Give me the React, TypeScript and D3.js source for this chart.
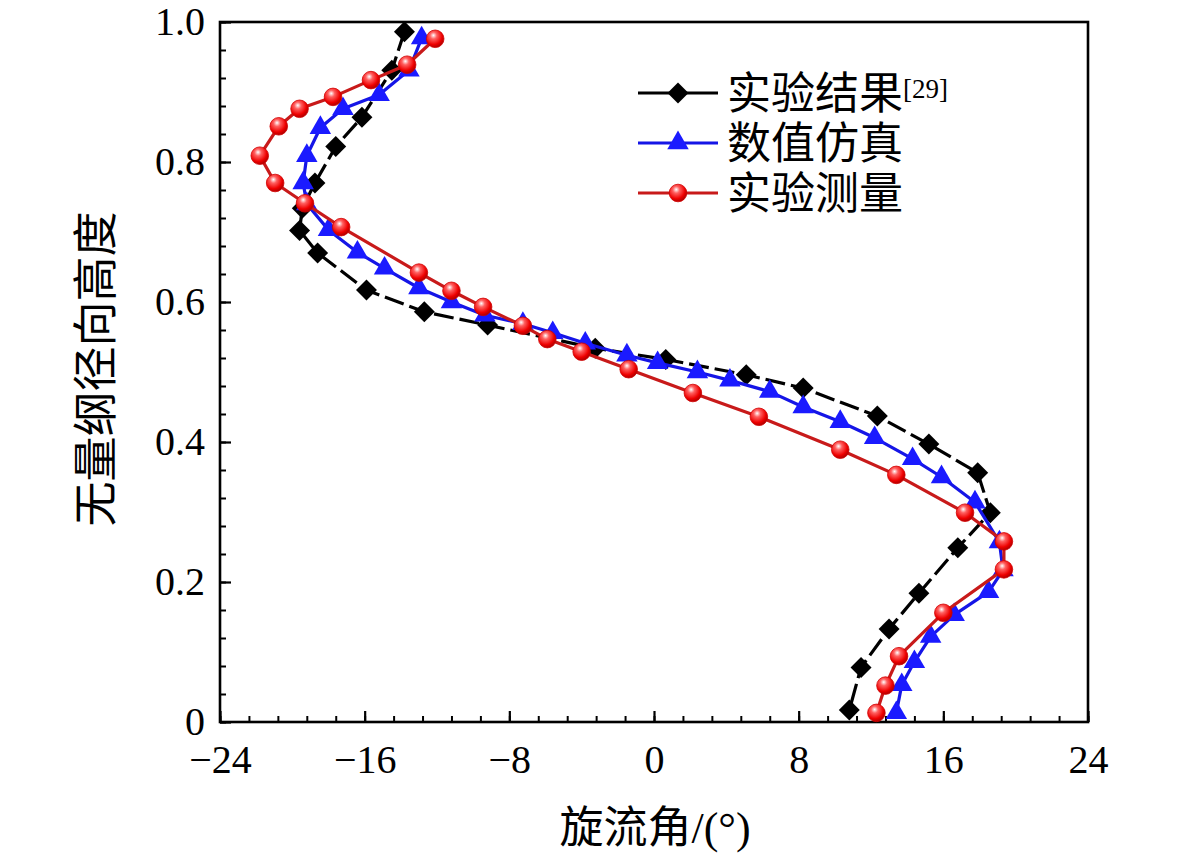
import { useEffect, useRef } from "react";
import * as d3 from "d3";

// 实验结果[29]
const expAngle = [-13.8, -14.5, -16.15, -17.6, -18.75, -19.45, -19.6, -18.6, -15.9, -12.7, -9.2, -3.25, 0.65, 5.1, 8.25, 12.35, 15.2, 17.9, 18.6, 16.8, 14.65, 13.0, 11.45, 10.8];
const expHeight = [0.986, 0.931, 0.864, 0.822, 0.77, 0.734, 0.702, 0.67, 0.617, 0.586, 0.567, 0.534, 0.518, 0.496, 0.477, 0.437, 0.397, 0.356, 0.299, 0.249, 0.184, 0.133, 0.078, 0.017];

// 数值仿真
const simAngle = [-12.85, -13.55, -15.2, -17.2, -18.45, -19.2, -19.4, -19.2, -18.0, -16.4, -14.9, -13.0, -11.2, -9.35, -7.25, -5.6, -3.8, -1.5, 0.2, 2.4, 4.2, 6.4, 8.25, 10.3, 12.2, 14.3, 15.9, 17.75, 19.1, 19.3, 18.5, 16.6, 15.3, 14.4, 13.7, 13.4];
const simHeight = [0.977, 0.931, 0.896, 0.876, 0.849, 0.809, 0.77, 0.74, 0.703, 0.671, 0.648, 0.62, 0.6, 0.581, 0.569, 0.556, 0.541, 0.524, 0.513, 0.5, 0.488, 0.472, 0.45, 0.429, 0.406, 0.376, 0.35, 0.314, 0.257, 0.217, 0.186, 0.153, 0.122, 0.086, 0.053, 0.013];

// 实验测量
const measAngle = [-12.1, -13.65, -15.65, -17.75, -19.6, -20.75, -21.8, -20.95, -19.3, -17.3, -13.0, -11.2, -9.45, -7.25, -5.9, -4.0, -1.4, 2.15, 5.8, 10.3, 13.4, 17.2, 19.35, 19.35, 16.0, 13.55, 12.8, 12.3];
const measHeight = [0.976, 0.939, 0.917, 0.893, 0.876, 0.851, 0.809, 0.77, 0.741, 0.707, 0.642, 0.616, 0.593, 0.566, 0.547, 0.529, 0.504, 0.47, 0.436, 0.389, 0.353, 0.299, 0.258, 0.218, 0.156, 0.094, 0.052, 0.013];

const xTicks = [-24, -16, -8, 0, 8, 16, 24];
const yTicks = [0, 0.2, 0.4, 0.6, 0.8, 1.0];
const legendNames = ["实验结果", "数值仿真", "实验测量"];

const serif = "'Liberation Serif', 'Times New Roman', 'Noto Sans CJK SC', serif";

export default function App() {
    const svgRef = useRef<SVGSVGElement | null>(null);

    useEffect(() => {
        if (!svgRef.current) return;
        const root = d3.select(svgRef.current);
        root.selectAll("*").remove();

        const width = 1181;
        const height = 855;
        const margin = { top: 22, right: 93, bottom: 133, left: 220 };
        const innerWidth = width - margin.left - margin.right;
        const innerHeight = height - margin.top - margin.bottom;

        const defs = root.append("defs");
        const grad = defs
            .append("radialGradient")
            .attr("id", "ball")
            .attr("cx", "0.4")
            .attr("cy", "0.35")
            .attr("r", "0.65")
            .attr("fx", "0.4")
            .attr("fy", "0.3");
        grad.append("stop").attr("offset", "0%").attr("stop-color", "#ffffff");
        grad.append("stop").attr("offset", "30%").attr("stop-color", "#ff6060");
        grad.append("stop").attr("offset", "75%").attr("stop-color", "#ee0000");
        grad.append("stop").attr("offset", "100%").attr("stop-color", "#b00000");

        const svg = root
            .append("g")
            .attr("transform", `translate(${margin.left},${margin.top})`);

        const x = d3.scaleLinear().domain([-24, 24]).range([0, innerWidth]);
        const y = d3.scaleLinear().domain([0, 1]).range([innerHeight, 0]);

        // Minor + major ticks, pointing inward
        const xMinor = d3.range(-24, 24.001, 1.6);
        const yMinor = d3.range(0, 1.0001, 0.04);

        svg.append("g")
            .attr("transform", `translate(0,${innerHeight})`)
            .call(d3.axisBottom(x).tickValues(xMinor).tickSize(-6).tickFormat(() => ""))
            .call((g) => g.select(".domain").remove())
            .selectAll("line")
            .attr("stroke", "#000")
            .attr("stroke-width", 2);

        svg.append("g")
            .attr("transform", `translate(0,${innerHeight})`)
            .call(d3.axisBottom(x).tickValues(xTicks).tickSize(-11).tickPadding(23).tickFormat((d) => `${d}`.replace("-", "−")))
            .call((g) => g.select(".domain").remove())
            .call((g) => g.selectAll("line").attr("stroke", "#000").attr("stroke-width", 2.2))
            .selectAll("text")
            .attr("fill", "#000")
            .attr("font-family", serif)
            .attr("font-size", "40px");

        svg.append("g")
            .call(d3.axisLeft(y).tickValues(yMinor).tickSize(-6).tickFormat(() => ""))
            .call((g) => g.select(".domain").remove())
            .selectAll("line")
            .attr("stroke", "#000")
            .attr("stroke-width", 2);

        svg.append("g")
            .call(d3.axisLeft(y).tickValues(yTicks).tickSize(-11).tickPadding(15).tickFormat((d) => (+d === 0 ? "0" : d3.format(".1f")(+d))))
            .call((g) => g.select(".domain").remove())
            .call((g) => g.selectAll("line").attr("stroke", "#000").attr("stroke-width", 2.2))
            .selectAll("text")
            .attr("fill", "#000")
            .attr("font-family", serif)
            .attr("font-size", "40px");

        // Frame
        svg.append("rect")
            .attr("x", 0)
            .attr("y", 0)
            .attr("width", innerWidth)
            .attr("height", innerHeight)
            .attr("fill", "none")
            .attr("stroke", "#000")
            .attr("stroke-width", 2.6);

        const series = [
            { xs: expAngle, ys: expHeight, line: "#000000", dash: "20,6", marker: "diamond" },
            { xs: simAngle, ys: simHeight, line: "#1515e6", dash: null, marker: "triangle" },
            { xs: measAngle, ys: measHeight, line: "#c81a1a", dash: null, marker: "circle" },
        ];

        const lineGen = d3
            .line<[number, number]>()
            .x((d) => x(d[0]))
            .y((d) => y(d[1]));

        const diamond = d3.symbol(d3.symbolDiamond2, 280)();
        const triangle = d3.symbol(d3.symbolTriangle, 200)();

        const drawMarker = (g: d3.Selection<SVGGElement, unknown, null, undefined>, kind: string, cx: number, cy: number) => {
            if (kind === "diamond") {
                g.append("path")
                    .attr("d", diamond)
                    .attr("transform", `translate(${cx},${cy})`)
                    .attr("fill", "#000");
            } else if (kind === "triangle") {
                g.append("path")
                    .attr("d", triangle)
                    .attr("transform", `translate(${cx},${cy})`)
                    .attr("fill", "#1a1aff");
            } else {
                g.append("circle")
                    .attr("cx", cx)
                    .attr("cy", cy)
                    .attr("r", 8.8)
                    .attr("fill", "url(#ball)")
                    .attr("stroke", "#d00000")
                    .attr("stroke-width", 0.8);
            }
        };

        const plot = svg.append("g");
        series.forEach((s) => {
            const pts = s.xs.map((v, i) => [v, s.ys[i]] as [number, number]);
            plot.append("path")
                .attr("d", lineGen(pts) || "")
                .attr("fill", "none")
                .attr("stroke", s.line)
                .attr("stroke-width", 3.2)
                .attr("stroke-dasharray", s.dash)
                .attr("stroke-linejoin", "round");
            const mg = plot.append("g");
            pts.forEach((p) => drawMarker(mg, s.marker, x(p[0]), y(p[1])));
        });

        // Legend
        const legend = root.append("g").attr("transform", "translate(638,93)");
        series.forEach((s, i) => {
            const row = legend.append("g").attr("transform", `translate(0,${i * 50})`);
            row.append("line")
                .attr("x1", 0)
                .attr("x2", 80)
                .attr("y1", 0)
                .attr("y2", 0)
                .attr("stroke", s.line)
                .attr("stroke-width", 3.2);
            drawMarker(row, s.marker, 40, 0);
            const t = row
                .append("text")
                .attr("x", 89)
                .attr("y", 0)
                .attr("dy", "0.36em")
                .attr("font-family", serif)
                .attr("font-size", "44px")
                .attr("fill", "#000")
                .text(legendNames[i]);
            if (i === 0) {
                t.append("tspan")
                    .attr("dy", "-0.42em")
                    .attr("font-size", "27px")
                    .text("[29]");
            }
        });

        // Axis titles
        root.append("text")
            .attr("x", margin.left + x(0) + 1)
            .attr("y", 843)
            .attr("text-anchor", "middle")
            .attr("font-family", serif)
            .attr("font-size", "44px")
            .attr("fill", "#000")
            .text("旋流角/(°)");

        root.append("text")
            .attr("transform", `translate(112,${margin.top + innerHeight / 2 - 3}) rotate(-90)`)
            .attr("text-anchor", "middle")
            .attr("font-family", serif)
            .attr("font-size", "45px")
            .attr("fill", "#000")
            .text("无量纲径向高度");
    }, []);

    return (
        <svg
            ref={svgRef}
            width={1181}
            height={855}
            style={{ position: "absolute", left: 0, top: 0, background: "#fff" }}
        />
    );
}
